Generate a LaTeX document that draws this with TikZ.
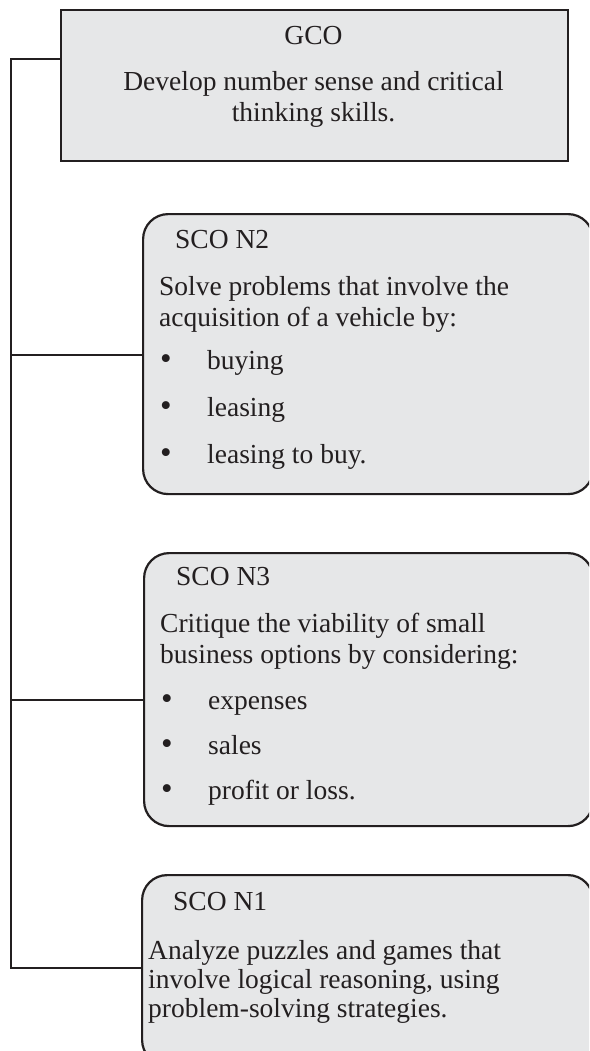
\documentclass[tikz,border=0pt]{standalone}
\usepackage{fontspec}
\setmainfont{Liberation Serif}
\definecolor{ink}{HTML}{231F20}
\definecolor{panel}{HTML}{E6E7E8}
\begin{document}
\begin{tikzpicture}[x=1pt,y=-1pt,
  outline/.style={draw=ink,line width=2.2pt,fill=panel},
  gcobox/.style={outline,rectangle,inner sep=0pt,anchor=north west},
  scobox/.style={outline,rectangle,rounded corners=25pt,inner sep=0pt,anchor=north west},
  wire/.style={draw=ink,line width=2.2pt,line join=miter},
  txt/.style={inner sep=0pt,text=ink,font=\fontsize{27.5}{31}\selectfont},
  lft/.style={txt,anchor=base west},
  ctr/.style={txt,anchor=base},
  bul/.style={inner sep=0pt,text=ink,font=\fontsize{33}{31}\selectfont,anchor=base west}]
\clip (0,0) rectangle (589,1051);
\fill[white] (0,0) rectangle (589,1051);

% boxes
\node[gcobox,minimum width=507pt,minimum height=151pt] (gco) at (60,9) {};
\node[scobox,minimum width=450pt,minimum height=280pt] (n2) at (142,213) {};
\node[scobox,minimum width=449pt,minimum height=273pt] (n3) at (143,552) {};
\node[scobox,minimum width=451pt,minimum height=190pt] (n1) at (141,874) {};

% spine and branches
\coordinate (sTop) at (11,59);
\coordinate (s2) at (11,355);
\coordinate (s3) at (11,700);
\coordinate (s1) at (11,968);
\draw[wire] (sTop -| gco.west) -- (sTop) -- (s1) -- (s1 -| n1.west);
\draw[wire] (s2) -- (s2 -| n2.west);
\draw[wire] (s3) -- (s3 -| n3.west);

% GCO
\node[ctr] (gcoT) at (313.5,45) {GCO};
\node[ctr] (gcoA) at (313.5,91) {Develop number sense and critical};
\node[ctr] (gcoB) at (313.5,122) {thinking skills.};

% SCO N2
\node[lft] (n2T) at (175,248) {SCO N2};
\node[lft] (n2A) at (159,295) {Solve problems that involve the};
\node[lft] (n2B) at (159,326) {acquisition of a vehicle by:};
\node[bul] (n2b1) at (160,369) {•};
\node[lft] (n2i1) at (207,369) {buying};
\node[bul] (n2b2) at (160,416) {•};
\node[lft] (n2i2) at (207,416) {leasing};
\node[bul] (n2b3) at (160,463) {•};
\node[lft] (n2i3) at (207,463) {leasing to buy.};

% SCO N3
\node[lft] (n3T) at (176,585) {SCO N3};
\node[lft] (n3A) at (160,632) {Critique the viability of small};
\node[lft] (n3B) at (160,663) {business options by considering:};
\node[bul] (n3b1) at (161,709) {•};
\node[lft] (n3i1) at (208,709) {expenses};
\node[bul] (n3b2) at (161,754) {•};
\node[lft] (n3i2) at (208,754) {sales};
\node[bul] (n3b3) at (161,799) {•};
\node[lft] (n3i3) at (208,799) {profit or loss.};

% SCO N1
\node[lft] (n1T) at (173,910) {SCO N1};
\node[lft] (n1A) at (148,959) {Analyze puzzles and games that};
\node[lft] (n1B) at (148,988) {involve logical reasoning, using};
\node[lft] (n1C) at (148,1017) {problem-solving strategies.};
\end{tikzpicture}
\end{document}
